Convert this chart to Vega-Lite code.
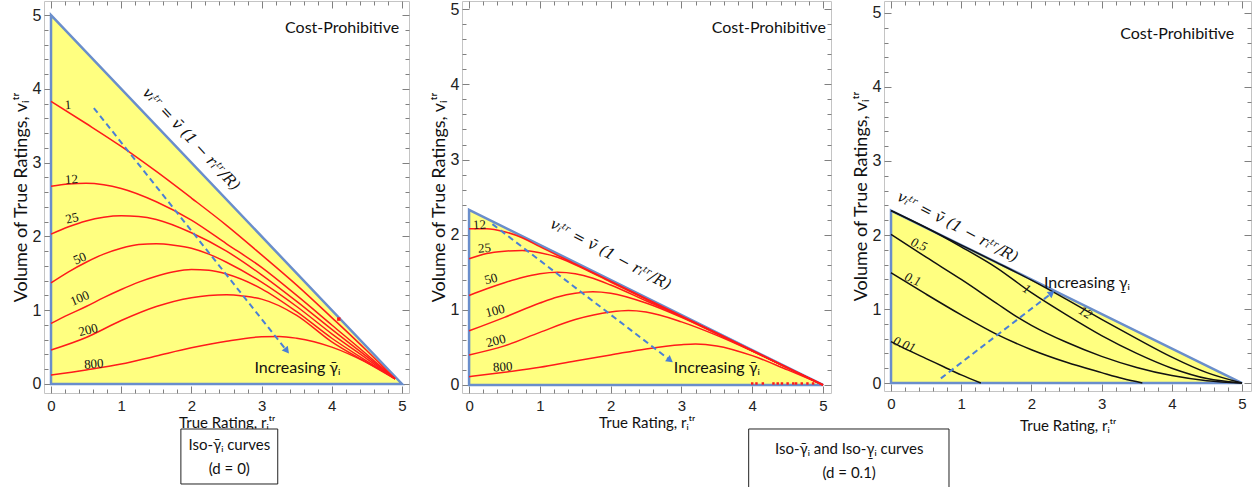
{
 "$schema": "https://vega.github.io/schema/vega-lite/v6.json",
 "background": "white",
 "padding": {"left": 11, "top": 0, "right": 0, "bottom": 0},
 "spacing": 53,
 "bounds": "flush",
 "config": {"view": {"stroke": "#c4c4c4", "strokeWidth": 1}, "line": {"interpolate": "monotone"}},
 "datasets": {
  "tri1": [{"x": 0, "y": 5}, {"x": 5, "y": 0}],
  "tri2": [{"x": 0, "y": 2.33}, {"x": 5, "y": 0}],
  "c1": [
   {"g": "1", "x": 0, "y": 3.83}, {"g": "1", "x": 0.5, "y": 3.53}, {"g": "1", "x": 1, "y": 3.22}, {"g": "1", "x": 1.5, "y": 2.88}, {"g": "1", "x": 2, "y": 2.52}, {"g": "1", "x": 2.5, "y": 2.15}, {"g": "1", "x": 3, "y": 1.75}, {"g": "1", "x": 3.5, "y": 1.34}, {"g": "1", "x": 4, "y": 0.9}, {"g": "1", "x": 4.5, "y": 0.45}, {"g": "1", "x": 4.9, "y": 0.07},
   {"g": "12", "x": 0, "y": 2.68}, {"g": "12", "x": 0.25, "y": 2.71}, {"g": "12", "x": 0.5, "y": 2.72}, {"g": "12", "x": 0.75, "y": 2.7}, {"g": "12", "x": 1, "y": 2.65}, {"g": "12", "x": 1.5, "y": 2.47}, {"g": "12", "x": 2, "y": 2.22}, {"g": "12", "x": 2.5, "y": 1.9}, {"g": "12", "x": 3, "y": 1.58}, {"g": "12", "x": 3.5, "y": 1.2}, {"g": "12", "x": 4, "y": 0.8}, {"g": "12", "x": 4.5, "y": 0.4}, {"g": "12", "x": 4.9, "y": 0.07},
   {"g": "25", "x": 0, "y": 2.03}, {"g": "25", "x": 0.25, "y": 2.13}, {"g": "25", "x": 0.5, "y": 2.21}, {"g": "25", "x": 0.75, "y": 2.26}, {"g": "25", "x": 1, "y": 2.28}, {"g": "25", "x": 1.25, "y": 2.27}, {"g": "25", "x": 1.5, "y": 2.23}, {"g": "25", "x": 2, "y": 2.05}, {"g": "25", "x": 2.5, "y": 1.8}, {"g": "25", "x": 3, "y": 1.48}, {"g": "25", "x": 3.5, "y": 1.12}, {"g": "25", "x": 4, "y": 0.74}, {"g": "25", "x": 4.5, "y": 0.37}, {"g": "25", "x": 4.9, "y": 0.07},
   {"g": "50", "x": 0, "y": 1.37}, {"g": "50", "x": 0.25, "y": 1.52}, {"g": "50", "x": 0.5, "y": 1.65}, {"g": "50", "x": 0.75, "y": 1.76}, {"g": "50", "x": 1, "y": 1.84}, {"g": "50", "x": 1.25, "y": 1.89}, {"g": "50", "x": 1.5, "y": 1.9}, {"g": "50", "x": 1.75, "y": 1.88}, {"g": "50", "x": 2, "y": 1.84}, {"g": "50", "x": 2.25, "y": 1.76}, {"g": "50", "x": 2.5, "y": 1.65}, {"g": "50", "x": 3, "y": 1.38}, {"g": "50", "x": 3.5, "y": 1.05}, {"g": "50", "x": 4, "y": 0.68}, {"g": "50", "x": 4.5, "y": 0.34}, {"g": "50", "x": 4.9, "y": 0.07},
   {"g": "100", "x": 0, "y": 0.82}, {"g": "100", "x": 0.25, "y": 0.94}, {"g": "100", "x": 0.5, "y": 1.05}, {"g": "100", "x": 0.75, "y": 1.17}, {"g": "100", "x": 1, "y": 1.28}, {"g": "100", "x": 1.25, "y": 1.38}, {"g": "100", "x": 1.5, "y": 1.46}, {"g": "100", "x": 1.75, "y": 1.52}, {"g": "100", "x": 2, "y": 1.55}, {"g": "100", "x": 2.25, "y": 1.54}, {"g": "100", "x": 2.5, "y": 1.49}, {"g": "100", "x": 3, "y": 1.29}, {"g": "100", "x": 3.5, "y": 0.98}, {"g": "100", "x": 4, "y": 0.62}, {"g": "100", "x": 4.5, "y": 0.31}, {"g": "100", "x": 4.9, "y": 0.07},
   {"g": "200", "x": 0, "y": 0.46}, {"g": "200", "x": 0.5, "y": 0.63}, {"g": "200", "x": 1, "y": 0.86}, {"g": "200", "x": 1.5, "y": 1.05}, {"g": "200", "x": 2, "y": 1.17}, {"g": "200", "x": 2.25, "y": 1.2}, {"g": "200", "x": 2.5, "y": 1.21}, {"g": "200", "x": 2.75, "y": 1.19}, {"g": "200", "x": 3, "y": 1.15}, {"g": "200", "x": 3.5, "y": 0.93}, {"g": "200", "x": 4, "y": 0.57}, {"g": "200", "x": 4.5, "y": 0.29}, {"g": "200", "x": 4.9, "y": 0.07},
   {"g": "800", "x": 0, "y": 0.12}, {"g": "800", "x": 0.5, "y": 0.19}, {"g": "800", "x": 1, "y": 0.27}, {"g": "800", "x": 1.5, "y": 0.38}, {"g": "800", "x": 2, "y": 0.49}, {"g": "800", "x": 2.5, "y": 0.58}, {"g": "800", "x": 3, "y": 0.64}, {"g": "800", "x": 3.25, "y": 0.645}, {"g": "800", "x": 3.5, "y": 0.62}, {"g": "800", "x": 4, "y": 0.5}, {"g": "800", "x": 4.5, "y": 0.29}, {"g": "800", "x": 4.9, "y": 0.08}
  ],
  "c2": [
   {"g": "12", "x": 0, "y": 2.08}, {"g": "12", "x": 0.25, "y": 2.08}, {"g": "12", "x": 0.5, "y": 2.04}, {"g": "12", "x": 0.75, "y": 1.96}, {"g": "12", "x": 1, "y": 1.84}, {"g": "12", "x": 1.5, "y": 1.61}, {"g": "12", "x": 2, "y": 1.38}, {"g": "12", "x": 3, "y": 0.92}, {"g": "12", "x": 4, "y": 0.46}, {"g": "12", "x": 5, "y": 0},
   {"g": "25", "x": 0, "y": 1.68}, {"g": "25", "x": 0.25, "y": 1.75}, {"g": "25", "x": 0.5, "y": 1.78}, {"g": "25", "x": 0.75, "y": 1.79}, {"g": "25", "x": 1, "y": 1.76}, {"g": "25", "x": 1.25, "y": 1.7}, {"g": "25", "x": 1.5, "y": 1.6}, {"g": "25", "x": 2, "y": 1.37}, {"g": "25", "x": 2.5, "y": 1.14}, {"g": "25", "x": 3, "y": 0.91}, {"g": "25", "x": 4, "y": 0.455}, {"g": "25", "x": 5, "y": 0},
   {"g": "50", "x": 0, "y": 1.19}, {"g": "50", "x": 0.25, "y": 1.28}, {"g": "50", "x": 0.5, "y": 1.36}, {"g": "50", "x": 0.75, "y": 1.43}, {"g": "50", "x": 1, "y": 1.48}, {"g": "50", "x": 1.25, "y": 1.5}, {"g": "50", "x": 1.5, "y": 1.48}, {"g": "50", "x": 1.75, "y": 1.42}, {"g": "50", "x": 2, "y": 1.33}, {"g": "50", "x": 2.5, "y": 1.12}, {"g": "50", "x": 3, "y": 0.91}, {"g": "50", "x": 3.5, "y": 0.69}, {"g": "50", "x": 4, "y": 0.455}, {"g": "50", "x": 4.5, "y": 0.228}, {"g": "50", "x": 5, "y": 0},
   {"g": "100", "x": 0, "y": 0.72}, {"g": "100", "x": 0.5, "y": 0.9}, {"g": "100", "x": 1, "y": 1.09}, {"g": "100", "x": 1.25, "y": 1.17}, {"g": "100", "x": 1.5, "y": 1.22}, {"g": "100", "x": 1.75, "y": 1.24}, {"g": "100", "x": 2, "y": 1.22}, {"g": "100", "x": 2.5, "y": 1.09}, {"g": "100", "x": 3, "y": 0.9}, {"g": "100", "x": 3.5, "y": 0.68}, {"g": "100", "x": 4, "y": 0.455}, {"g": "100", "x": 4.5, "y": 0.228}, {"g": "100", "x": 5, "y": 0},
   {"g": "200", "x": 0, "y": 0.4}, {"g": "200", "x": 0.5, "y": 0.52}, {"g": "200", "x": 1, "y": 0.7}, {"g": "200", "x": 1.5, "y": 0.87}, {"g": "200", "x": 2, "y": 0.97}, {"g": "200", "x": 2.25, "y": 0.99}, {"g": "200", "x": 2.5, "y": 0.97}, {"g": "200", "x": 3, "y": 0.84}, {"g": "200", "x": 3.5, "y": 0.66}, {"g": "200", "x": 4, "y": 0.45}, {"g": "200", "x": 4.5, "y": 0.225}, {"g": "200", "x": 5, "y": 0},
   {"g": "800", "x": 0, "y": 0.11}, {"g": "800", "x": 0.5, "y": 0.17}, {"g": "800", "x": 1, "y": 0.235}, {"g": "800", "x": 1.5, "y": 0.32}, {"g": "800", "x": 2, "y": 0.4}, {"g": "800", "x": 2.5, "y": 0.48}, {"g": "800", "x": 3, "y": 0.535}, {"g": "800", "x": 3.2, "y": 0.545}, {"g": "800", "x": 3.5, "y": 0.52}, {"g": "800", "x": 4, "y": 0.39}, {"g": "800", "x": 4.5, "y": 0.2}, {"g": "800", "x": 5, "y": 0}
  ],
  "c3": [
   {"g": "0.01", "x": 0, "y": 0.56}, {"g": "0.01", "x": 0.25, "y": 0.44}, {"g": "0.01", "x": 0.5, "y": 0.33}, {"g": "0.01", "x": 0.75, "y": 0.22}, {"g": "0.01", "x": 1, "y": 0.11}, {"g": "0.01", "x": 1.28, "y": 0},
   {"g": "0.1", "x": 0, "y": 1.49}, {"g": "0.1", "x": 0.5, "y": 1.2}, {"g": "0.1", "x": 1, "y": 0.92}, {"g": "0.1", "x": 1.5, "y": 0.66}, {"g": "0.1", "x": 2, "y": 0.45}, {"g": "0.1", "x": 2.5, "y": 0.28}, {"g": "0.1", "x": 3, "y": 0.14}, {"g": "0.1", "x": 3.3, "y": 0.06}, {"g": "0.1", "x": 3.58, "y": 0},
   {"g": "0.5", "x": 0, "y": 2.01}, {"g": "0.5", "x": 0.5, "y": 1.7}, {"g": "0.5", "x": 1, "y": 1.4}, {"g": "0.5", "x": 1.5, "y": 1.08}, {"g": "0.5", "x": 1.8, "y": 0.89}, {"g": "0.5", "x": 2, "y": 0.78}, {"g": "0.5", "x": 2.5, "y": 0.55}, {"g": "0.5", "x": 3, "y": 0.36}, {"g": "0.5", "x": 3.5, "y": 0.21}, {"g": "0.5", "x": 4, "y": 0.1}, {"g": "0.5", "x": 4.5, "y": 0.03}, {"g": "0.5", "x": 5, "y": 0},
   {"g": "1", "x": 0, "y": 2.33}, {"g": "1", "x": 0.5, "y": 2.1}, {"g": "1", "x": 1, "y": 1.84}, {"g": "1", "x": 1.5, "y": 1.56}, {"g": "1", "x": 2, "y": 1.22}, {"g": "1", "x": 2.5, "y": 0.92}, {"g": "1", "x": 3, "y": 0.64}, {"g": "1", "x": 3.5, "y": 0.4}, {"g": "1", "x": 4, "y": 0.2}, {"g": "1", "x": 4.5, "y": 0.06}, {"g": "1", "x": 5, "y": 0},
   {"g": "12", "x": 0, "y": 2.33}, {"g": "12", "x": 1, "y": 1.864}, {"g": "12", "x": 1.5, "y": 1.63}, {"g": "12", "x": 2, "y": 1.39}, {"g": "12", "x": 2.5, "y": 1.13}, {"g": "12", "x": 3, "y": 0.86}, {"g": "12", "x": 3.5, "y": 0.6}, {"g": "12", "x": 4, "y": 0.35}, {"g": "12", "x": 4.5, "y": 0.14}, {"g": "12", "x": 5, "y": 0}
  ],
  "lab1": [
   {"t": "1", "x": 0.24, "y": 3.78}, {"t": "12", "x": 0.29, "y": 2.77}, {"t": "25", "x": 0.3, "y": 2.245},
   {"t": "50", "x": 0.41, "y": 1.7}, {"t": "100", "x": 0.41, "y": 1.16}, {"t": "200", "x": 0.53, "y": 0.73}, {"t": "800", "x": 0.61, "y": 0.27}
  ],
  "lab2": [
   {"t": "12", "x": 0.146, "y": 2.13}, {"t": "25", "x": 0.216, "y": 1.82}, {"t": "50", "x": 0.31, "y": 1.41},
   {"t": "100", "x": 0.367, "y": 0.985}, {"t": "200", "x": 0.38, "y": 0.586}, {"t": "800", "x": 0.476, "y": 0.24}
  ],
  "lab3": [
   {"t": "0.5", "x": 0.4, "y": 1.87}, {"t": "0.1", "x": 0.31, "y": 1.4}, {"t": "0.01", "x": 0.19, "y": 0.52},
   {"t": "1", "x": 1.93, "y": 1.27}, {"t": "12", "x": 2.77, "y": 0.95}
  ]
 },
 "hconcat": [
  {
   "width": 365, "height": 392,
   "resolve": {"axis": {"x": "independent", "y": "independent"}},
   "layer": [
    {
     "data": {"name": "tri1"},
     "mark": {"type": "area", "fill": "#ffff80", "stroke": "#6a8ecb", "strokeWidth": 2.5, "clip": false},
     "encoding": {
      "x": {"field": "x", "type": "quantitative", "scale": {"domain": [-0.1, 5.1], "nice": false, "zero": false},
       "axis": {"orient": "bottom", "offset": -7, "values": [0, 1, 2, 3, 4, 5], "tickSize": 7, "tickColor": "#808080", "tickWidth": 1, "domain": false, "grid": false, "format": "d", "labelFont": "Liberation Sans", "labelFontSize": 15, "labelColor": "#222222", "labelPadding": 5, "labelOverlap": false, "labelFlush": false, "title": "True Rating, rᵢᵗʳ", "titleFont": "Lato", "titleFontSize": 15, "titleFontWeight": "normal", "titleColor": "#111111", "titlePadding": 2}},
      "y": {"field": "y", "type": "quantitative", "scale": {"domain": [-0.122, 5.19], "nice": false, "zero": false},
       "axis": {"orient": "left", "offset": -7, "values": [0, 1, 2, 3, 4, 5], "tickSize": 7, "tickColor": "#808080", "tickWidth": 1, "domain": false, "grid": false, "format": "d", "labelFont": "Liberation Sans", "labelFontSize": 16, "labelColor": "#222222", "labelPadding": 3, "labelOverlap": false, "labelFlush": false, "title": "Volume of True Ratings,  vᵢᵗʳ", "titleFont": "Lato", "titleFontSize": 18, "titleFontWeight": "normal", "titleColor": "#111111", "titlePadding": 2}}
     }
    },
    {
     "data": {"name": "c1"},
     "mark": {"type": "line", "color": "#ff1a1a", "strokeWidth": 1.5},
     "encoding": {
      "x": {"field": "x", "type": "quantitative", "scale": {"domain": [-0.1, 5.1], "nice": false, "zero": false},
       "axis": {"orient": "bottom", "offset": -4, "values": [0.2,0.4,0.6,0.8,1.2,1.4,1.6,1.8,2.2,2.4,2.6,2.8,3.2,3.4,3.6,3.8,4.2,4.4,4.6,4.8], "tickSize": 4, "tickColor": "#808080", "tickWidth": 1, "domain": false, "grid": false, "labels": false, "title": null}},
      "y": {"field": "y", "type": "quantitative", "scale": {"domain": [-0.122, 5.19], "nice": false, "zero": false},
       "axis": {"orient": "left", "offset": -4, "values": [0.2,0.4,0.6,0.8,1.2,1.4,1.6,1.8,2.2,2.4,2.6,2.8,3.2,3.4,3.6,3.8,4.2,4.4,4.6,4.8], "tickSize": 4, "tickColor": "#808080", "tickWidth": 1, "domain": false, "grid": false, "labels": false, "title": null}},
      "detail": {"field": "g"}
     }
    },
    {
     "data": {"name": "lab1"},
     "transform": [{"filter": {"field": "t", "oneOf": ["1", "12", "800"]}}],
     "mark": {"type": "text", "font": "Liberation Serif", "fontSize": 13, "color": "#111111", "angle": 356},
     "encoding": {
      "x": {"field": "x", "type": "quantitative", "scale": {"domain": [-0.1, 5.1], "nice": false, "zero": false}, "axis": null},
      "y": {"field": "y", "type": "quantitative", "scale": {"domain": [-0.122, 5.19], "nice": false, "zero": false}, "axis": null},
      "text": {"field": "t"}
     }
    },
    {
     "data": {"name": "lab1"},
     "transform": [{"filter": {"field": "t", "oneOf": ["25", "200"]}}],
     "mark": {"type": "text", "font": "Liberation Serif", "fontSize": 13, "color": "#111111", "angle": 346},
     "encoding": {
      "x": {"field": "x", "type": "quantitative", "scale": {"domain": [-0.1, 5.1], "nice": false, "zero": false}, "axis": null},
      "y": {"field": "y", "type": "quantitative", "scale": {"domain": [-0.122, 5.19], "nice": false, "zero": false}, "axis": null},
      "text": {"field": "t"}
     }
    },
    {
     "data": {"name": "lab1"},
     "transform": [{"filter": {"field": "t", "oneOf": ["50", "100"]}}],
     "mark": {"type": "text", "font": "Liberation Serif", "fontSize": 13, "color": "#111111", "angle": 337},
     "encoding": {
      "x": {"field": "x", "type": "quantitative", "scale": {"domain": [-0.1, 5.1], "nice": false, "zero": false}, "axis": null},
      "y": {"field": "y", "type": "quantitative", "scale": {"domain": [-0.122, 5.19], "nice": false, "zero": false}, "axis": null},
      "text": {"field": "t"}
     }
    },
    {
     "data": {"values": [{"x": 0.61, "y": 3.74}, {"x": 3.36, "y": 0.45}]},
     "mark": {"type": "line", "color": "#4a7fd6", "strokeWidth": 2, "strokeDash": [6, 4], "interpolate": "linear"},
     "encoding": {
      "x": {"field": "x", "type": "quantitative", "scale": {"domain": [-0.1, 5.1], "nice": false, "zero": false}, "axis": null},
      "y": {"field": "y", "type": "quantitative", "scale": {"domain": [-0.122, 5.19], "nice": false, "zero": false}, "axis": null}
     }
    },
    {
     "data": {"values": [{"x": 3.36, "y": 0.45}]},
     "mark": {"type": "point", "shape": "triangle-right", "filled": true, "color": "#4a7fd6", "size": 60, "angle": 51.5, "opacity": 1},
     "encoding": {
      "x": {"field": "x", "type": "quantitative", "scale": {"domain": [-0.1, 5.1], "nice": false, "zero": false}, "axis": null},
      "y": {"field": "y", "type": "quantitative", "scale": {"domain": [-0.122, 5.19], "nice": false, "zero": false}, "axis": null}
     }
    },
    {
     "data": {"values": [{"x": 4.1, "y": 0.88}]},
     "mark": {"type": "square", "color": "#ff1a1a", "size": 12, "opacity": 1},
     "encoding": {
      "x": {"field": "x", "type": "quantitative", "scale": {"domain": [-0.1, 5.1], "nice": false, "zero": false}, "axis": null},
      "y": {"field": "y", "type": "quantitative", "scale": {"domain": [-0.122, 5.19], "nice": false, "zero": false}, "axis": null}
     }
    },
    {
     "data": {"values": [{"x": 2.0, "y": 3.32, "t": "vᵢᵗʳ = v̄ (1 − rᵢᵗʳ/R)"}]},
     "mark": {"type": "text", "font": "DejaVu Serif", "fontStyle": "italic", "fontSize": 15, "color": "#111111", "angle": 47},
     "encoding": {
      "x": {"field": "x", "type": "quantitative", "scale": {"domain": [-0.1, 5.1], "nice": false, "zero": false}, "axis": null},
      "y": {"field": "y", "type": "quantitative", "scale": {"domain": [-0.122, 5.19], "nice": false, "zero": false}, "axis": null},
      "text": {"field": "t"}
     }
    },
    {
     "data": {"values": [{"x": 4.96, "y": 4.82, "t": "Cost-Prohibitive"}]},
     "mark": {"type": "text", "font": "Lato", "fontSize": 16, "color": "#111111", "align": "right", "baseline": "middle"},
     "encoding": {
      "x": {"field": "x", "type": "quantitative", "scale": {"domain": [-0.1, 5.1], "nice": false, "zero": false},
       "axis": {"orient": "top", "offset": -7, "values": [0, 1, 2, 3, 4, 5], "tickSize": 7, "tickColor": "#808080", "tickWidth": 1, "domain": false, "grid": false, "labels": false, "title": null}},
      "y": {"field": "y", "type": "quantitative", "scale": {"domain": [-0.122, 5.19], "nice": false, "zero": false},
       "axis": {"orient": "right", "offset": -7, "values": [0, 1, 2, 3, 4, 5], "tickSize": 7, "tickColor": "#808080", "tickWidth": 1, "domain": false, "grid": false, "labels": false, "title": null}},
      "text": {"field": "t"}
     }
    },
    {
     "data": {"values": [{"x": 3.51, "y": 0.217, "t": "Increasing γ̄ᵢ"}]},
     "mark": {"type": "text", "font": "Lato", "fontSize": 16, "color": "#111111", "align": "center", "baseline": "middle"},
     "encoding": {
      "x": {"field": "x", "type": "quantitative", "scale": {"domain": [-0.1, 5.1], "nice": false, "zero": false},
       "axis": {"orient": "top", "offset": -4, "values": [0.2,0.4,0.6,0.8,1.2,1.4,1.6,1.8,2.2,2.4,2.6,2.8,3.2,3.4,3.6,3.8,4.2,4.4,4.6,4.8], "tickSize": 4, "tickColor": "#808080", "tickWidth": 1, "domain": false, "grid": false, "labels": false, "title": null}},
      "y": {"field": "y", "type": "quantitative", "scale": {"domain": [-0.122, 5.19], "nice": false, "zero": false},
       "axis": {"orient": "right", "offset": -4, "values": [0.2,0.4,0.6,0.8,1.2,1.4,1.6,1.8,2.2,2.4,2.6,2.8,3.2,3.4,3.6,3.8,4.2,4.4,4.6,4.8], "tickSize": 4, "tickColor": "#808080", "tickWidth": 1, "domain": false, "grid": false, "labels": false, "title": null}},
      "text": {"field": "t"}
     }
    },
    {
     "data": {"values": [{"x": 1.85, "x2": 3.23, "y": -0.61, "y2": -1.355}]},
     "mark": {"type": "rect", "fill": "white", "stroke": "#222222", "strokeWidth": 1, "clip": false},
     "encoding": {
      "x": {"field": "x", "type": "quantitative", "scale": {"domain": [-0.1, 5.1], "nice": false, "zero": false}, "axis": null},
      "x2": {"field": "x2"},
      "y": {"field": "y", "type": "quantitative", "scale": {"domain": [-0.122, 5.19], "nice": false, "zero": false}, "axis": null},
      "y2": {"field": "y2"}
     }
    },
    {
     "data": {"values": [{"x": 2.54, "y": -0.827, "t": "Iso-γ̄ᵢ curves"}, {"x": 2.54, "y": -1.152, "t": "(d = 0)"}]},
     "mark": {"type": "text", "font": "Lato", "fontSize": 15, "color": "#111111", "align": "center", "baseline": "middle", "clip": false},
     "encoding": {
      "x": {"field": "x", "type": "quantitative", "scale": {"domain": [-0.1, 5.1], "nice": false, "zero": false}, "axis": null},
      "y": {"field": "y", "type": "quantitative", "scale": {"domain": [-0.122, 5.19], "nice": false, "zero": false}, "axis": null},
      "text": {"field": "t"}
     }
    }
   ]
  },
  {
   "width": 369, "height": 392,
   "resolve": {"axis": {"x": "independent", "y": "independent"}},
   "layer": [
    {
     "data": {"name": "tri2"},
     "mark": {"type": "area", "fill": "#ffff80", "stroke": "#6a8ecb", "strokeWidth": 2.5, "clip": false},
     "encoding": {
      "x": {"field": "x", "type": "quantitative", "scale": {"domain": [-0.1, 5.113], "nice": false, "zero": false},
       "axis": {"orient": "bottom", "offset": -7, "values": [0, 1, 2, 3, 4, 5], "tickSize": 7, "tickColor": "#808080", "tickWidth": 1, "domain": false, "grid": false, "format": "d", "labelFont": "Liberation Sans", "labelFontSize": 15, "labelColor": "#222222", "labelPadding": 5, "labelOverlap": false, "labelFlush": false, "title": "True Rating, rᵢᵗʳ", "titleFont": "Lato", "titleFontSize": 15, "titleFontWeight": "normal", "titleColor": "#111111", "titlePadding": 2}},
      "y": {"field": "y", "type": "quantitative", "scale": {"domain": [-0.107, 5.11], "nice": false, "zero": false},
       "axis": {"orient": "left", "offset": -7, "values": [0, 1, 2, 3, 4, 5], "tickSize": 7, "tickColor": "#808080", "tickWidth": 1, "domain": false, "grid": false, "format": "d", "labelFont": "Liberation Sans", "labelFontSize": 16, "labelColor": "#222222", "labelPadding": 3, "labelOverlap": false, "labelFlush": false, "title": "Volume of True Ratings,  vᵢᵗʳ", "titleFont": "Lato", "titleFontSize": 18, "titleFontWeight": "normal", "titleColor": "#111111", "titlePadding": 2}}
     }
    },
    {
     "data": {"name": "c2"},
     "mark": {"type": "line", "color": "#ff1a1a", "strokeWidth": 1.5},
     "encoding": {
      "x": {"field": "x", "type": "quantitative", "scale": {"domain": [-0.1, 5.113], "nice": false, "zero": false},
       "axis": {"orient": "bottom", "offset": -4, "values": [0.2,0.4,0.6,0.8,1.2,1.4,1.6,1.8,2.2,2.4,2.6,2.8,3.2,3.4,3.6,3.8,4.2,4.4,4.6,4.8], "tickSize": 4, "tickColor": "#808080", "tickWidth": 1, "domain": false, "grid": false, "labels": false, "title": null}},
      "y": {"field": "y", "type": "quantitative", "scale": {"domain": [-0.107, 5.11], "nice": false, "zero": false},
       "axis": {"orient": "left", "offset": -4, "values": [0.2,0.4,0.6,0.8,1.2,1.4,1.6,1.8,2.2,2.4,2.6,2.8,3.2,3.4,3.6,3.8,4.2,4.4,4.6,4.8], "tickSize": 4, "tickColor": "#808080", "tickWidth": 1, "domain": false, "grid": false, "labels": false, "title": null}},
      "detail": {"field": "g"}
     }
    },
    {
     "data": {"values": [{"x": 4.0}, {"x": 4.06}, {"x": 4.15}, {"x": 4.3}, {"x": 4.36}, {"x": 4.42}, {"x": 4.5}, {"x": 4.58}, {"x": 4.62}, {"x": 4.7}, {"x": 4.78}, {"x": 4.86}]},
     "mark": {"type": "square", "color": "#ff1a1a", "size": 6, "opacity": 1},
     "encoding": {
      "x": {"field": "x", "type": "quantitative", "scale": {"domain": [-0.1, 5.113], "nice": false, "zero": false}, "axis": null},
      "y": {"datum": 0.02, "type": "quantitative", "scale": {"domain": [-0.107, 5.11], "nice": false, "zero": false}, "axis": null}
     }
    },
    {
     "data": {"name": "lab2"},
     "transform": [{"filter": {"field": "t", "oneOf": ["12", "25", "800"]}}],
     "mark": {"type": "text", "font": "Liberation Serif", "fontSize": 13, "color": "#111111", "angle": 356},
     "encoding": {
      "x": {"field": "x", "type": "quantitative", "scale": {"domain": [-0.1, 5.113], "nice": false, "zero": false}, "axis": null},
      "y": {"field": "y", "type": "quantitative", "scale": {"domain": [-0.107, 5.11], "nice": false, "zero": false}, "axis": null},
      "text": {"field": "t"}
     }
    },
    {
     "data": {"name": "lab2"},
     "transform": [{"filter": {"field": "t", "oneOf": ["50", "100", "200"]}}],
     "mark": {"type": "text", "font": "Liberation Serif", "fontSize": 13, "color": "#111111", "angle": 345},
     "encoding": {
      "x": {"field": "x", "type": "quantitative", "scale": {"domain": [-0.1, 5.113], "nice": false, "zero": false}, "axis": null},
      "y": {"field": "y", "type": "quantitative", "scale": {"domain": [-0.107, 5.11], "nice": false, "zero": false}, "axis": null},
      "text": {"field": "t"}
     }
    },
    {
     "data": {"values": [{"x": 0.33, "y": 2.14}, {"x": 2.84, "y": 0.33}]},
     "mark": {"type": "line", "color": "#4a7fd6", "strokeWidth": 2, "strokeDash": [6, 4], "interpolate": "linear"},
     "encoding": {
      "x": {"field": "x", "type": "quantitative", "scale": {"domain": [-0.1, 5.113], "nice": false, "zero": false}, "axis": null},
      "y": {"field": "y", "type": "quantitative", "scale": {"domain": [-0.107, 5.11], "nice": false, "zero": false}, "axis": null}
     }
    },
    {
     "data": {"values": [{"x": 2.84, "y": 0.33}]},
     "mark": {"type": "point", "shape": "triangle-right", "filled": true, "color": "#4a7fd6", "size": 60, "angle": 37, "opacity": 1},
     "encoding": {
      "x": {"field": "x", "type": "quantitative", "scale": {"domain": [-0.1, 5.113], "nice": false, "zero": false}, "axis": null},
      "y": {"field": "y", "type": "quantitative", "scale": {"domain": [-0.107, 5.11], "nice": false, "zero": false}, "axis": null}
     }
    },
    {
     "data": {"values": [{"x": 2.0, "y": 1.74, "t": "vᵢᵗʳ = v̄ (1 − rᵢᵗʳ/R)"}]},
     "mark": {"type": "text", "font": "DejaVu Serif", "fontStyle": "italic", "fontSize": 15, "color": "#111111", "angle": 28},
     "encoding": {
      "x": {"field": "x", "type": "quantitative", "scale": {"domain": [-0.1, 5.113], "nice": false, "zero": false}, "axis": null},
      "y": {"field": "y", "type": "quantitative", "scale": {"domain": [-0.107, 5.11], "nice": false, "zero": false}, "axis": null},
      "text": {"field": "t"}
     }
    },
    {
     "data": {"values": [{"x": 5.04, "y": 4.75, "t": "Cost-Prohibitive"}]},
     "mark": {"type": "text", "font": "Lato", "fontSize": 16, "color": "#111111", "align": "right", "baseline": "middle"},
     "encoding": {
      "x": {"field": "x", "type": "quantitative", "scale": {"domain": [-0.1, 5.113], "nice": false, "zero": false},
       "axis": {"orient": "top", "offset": -7, "values": [0, 1, 2, 3, 4, 5], "tickSize": 7, "tickColor": "#808080", "tickWidth": 1, "domain": false, "grid": false, "labels": false, "title": null}},
      "y": {"field": "y", "type": "quantitative", "scale": {"domain": [-0.107, 5.11], "nice": false, "zero": false},
       "axis": {"orient": "right", "offset": -7, "values": [0, 1, 2, 3, 4, 5], "tickSize": 7, "tickColor": "#808080", "tickWidth": 1, "domain": false, "grid": false, "labels": false, "title": null}},
      "text": {"field": "t"}
     }
    },
    {
     "data": {"values": [{"x": 3.5, "y": 0.23, "t": "Increasing γ̄ᵢ"}]},
     "mark": {"type": "text", "font": "Lato", "fontSize": 16, "color": "#111111", "align": "center", "baseline": "middle"},
     "encoding": {
      "x": {"field": "x", "type": "quantitative", "scale": {"domain": [-0.1, 5.113], "nice": false, "zero": false},
       "axis": {"orient": "top", "offset": -4, "values": [0.2,0.4,0.6,0.8,1.2,1.4,1.6,1.8,2.2,2.4,2.6,2.8,3.2,3.4,3.6,3.8,4.2,4.4,4.6,4.8], "tickSize": 4, "tickColor": "#808080", "tickWidth": 1, "domain": false, "grid": false, "labels": false, "title": null}},
      "y": {"field": "y", "type": "quantitative", "scale": {"domain": [-0.107, 5.11], "nice": false, "zero": false},
       "axis": {"orient": "right", "offset": -4, "values": [0.2,0.4,0.6,0.8,1.2,1.4,1.6,1.8,2.2,2.4,2.6,2.8,3.2,3.4,3.6,3.8,4.2,4.4,4.6,4.8], "tickSize": 4, "tickColor": "#808080", "tickWidth": 1, "domain": false, "grid": false, "labels": false, "title": null}},
      "text": {"field": "t"}
     }
    },
    {
     "data": {"values": [{"x": 3.95, "x2": 6.78, "y": -0.586, "y2": -1.42}]},
     "mark": {"type": "rect", "fill": "white", "stroke": "#222222", "strokeWidth": 1, "clip": false},
     "encoding": {
      "x": {"field": "x", "type": "quantitative", "scale": {"domain": [-0.1, 5.113], "nice": false, "zero": false}, "axis": null},
      "x2": {"field": "x2"},
      "y": {"field": "y", "type": "quantitative", "scale": {"domain": [-0.107, 5.11], "nice": false, "zero": false}, "axis": null},
      "y2": {"field": "y2"}
     }
    },
    {
     "data": {"values": [{"x": 5.37, "y": -0.852, "t": "Iso-γ̄ᵢ and Iso-γ̱ᵢ curves"}, {"x": 5.37, "y": -1.171, "t": "(d = 0.1)"}]},
     "mark": {"type": "text", "font": "Lato", "fontSize": 15, "color": "#111111", "align": "center", "baseline": "middle", "clip": false},
     "encoding": {
      "x": {"field": "x", "type": "quantitative", "scale": {"domain": [-0.1, 5.113], "nice": false, "zero": false}, "axis": null},
      "y": {"field": "y", "type": "quantitative", "scale": {"domain": [-0.107, 5.11], "nice": false, "zero": false}, "axis": null},
      "text": {"field": "t"}
     }
    }
   ]
  },
  {
   "width": 367, "height": 390,
   "resolve": {"axis": {"x": "independent", "y": "independent"}},
   "layer": [
    {
     "data": {"name": "tri2"},
     "mark": {"type": "area", "fill": "#ffff80", "stroke": "#6a8ecb", "strokeWidth": 2.5, "clip": false},
     "encoding": {
      "x": {"field": "x", "type": "quantitative", "scale": {"domain": [-0.1, 5.128], "nice": false, "zero": false},
       "axis": {"orient": "bottom", "offset": -7, "values": [0, 1, 2, 3, 4, 5], "tickSize": 7, "tickColor": "#808080", "tickWidth": 1, "domain": false, "grid": false, "format": "d", "labelFont": "Liberation Sans", "labelFontSize": 15, "labelColor": "#222222", "labelPadding": 5, "labelOverlap": false, "labelFlush": false, "title": "True Rating, rᵢᵗʳ", "titleFont": "Lato", "titleFontSize": 15, "titleFontWeight": "normal", "titleColor": "#111111", "titlePadding": 7}},
      "y": {"field": "y", "type": "quantitative", "scale": {"domain": [-0.108, 5.162], "nice": false, "zero": false},
       "axis": {"orient": "left", "offset": -7, "values": [0, 1, 2, 3, 4, 5], "tickSize": 7, "tickColor": "#808080", "tickWidth": 1, "domain": false, "grid": false, "format": "d", "labelFont": "Liberation Sans", "labelFontSize": 16, "labelColor": "#222222", "labelPadding": 3, "labelOverlap": false, "labelFlush": false, "title": "Volume of True Ratings,  vᵢᵗʳ", "titleFont": "Lato", "titleFontSize": 18, "titleFontWeight": "normal", "titleColor": "#111111", "titlePadding": 2}}
     }
    },
    {
     "data": {"name": "c3"},
     "mark": {"type": "line", "color": "#111111", "strokeWidth": 1.5},
     "encoding": {
      "x": {"field": "x", "type": "quantitative", "scale": {"domain": [-0.1, 5.128], "nice": false, "zero": false},
       "axis": {"orient": "bottom", "offset": -4, "values": [0.2,0.4,0.6,0.8,1.2,1.4,1.6,1.8,2.2,2.4,2.6,2.8,3.2,3.4,3.6,3.8,4.2,4.4,4.6,4.8], "tickSize": 4, "tickColor": "#808080", "tickWidth": 1, "domain": false, "grid": false, "labels": false, "title": null}},
      "y": {"field": "y", "type": "quantitative", "scale": {"domain": [-0.108, 5.162], "nice": false, "zero": false},
       "axis": {"orient": "left", "offset": -4, "values": [0.2,0.4,0.6,0.8,1.2,1.4,1.6,1.8,2.2,2.4,2.6,2.8,3.2,3.4,3.6,3.8,4.2,4.4,4.6,4.8], "tickSize": 4, "tickColor": "#808080", "tickWidth": 1, "domain": false, "grid": false, "labels": false, "title": null}},
      "detail": {"field": "g"}
     }
    },
    {
     "data": {"name": "lab3"},
     "transform": [{"filter": {"field": "t", "oneOf": ["0.5", "0.1", "0.01"]}}],
     "mark": {"type": "text", "font": "Liberation Serif", "fontStyle": "italic", "fontSize": 13, "color": "#111111", "angle": 22},
     "encoding": {
      "x": {"field": "x", "type": "quantitative", "scale": {"domain": [-0.1, 5.128], "nice": false, "zero": false}, "axis": null},
      "y": {"field": "y", "type": "quantitative", "scale": {"domain": [-0.108, 5.162], "nice": false, "zero": false}, "axis": null},
      "text": {"field": "t"}
     }
    },
    {
     "data": {"name": "lab3"},
     "transform": [{"filter": {"field": "t", "oneOf": ["1", "12"]}}],
     "mark": {"type": "text", "font": "Liberation Serif", "fontStyle": "italic", "fontSize": 13, "color": "#111111", "angle": 32},
     "encoding": {
      "x": {"field": "x", "type": "quantitative", "scale": {"domain": [-0.1, 5.128], "nice": false, "zero": false}, "axis": null},
      "y": {"field": "y", "type": "quantitative", "scale": {"domain": [-0.108, 5.162], "nice": false, "zero": false}, "axis": null},
      "text": {"field": "t"}
     }
    },
    {
     "data": {"values": [{"x": 0.71, "y": 0.063}, {"x": 2.29, "y": 1.215}]},
     "mark": {"type": "line", "color": "#4a7fd6", "strokeWidth": 2, "strokeDash": [6, 4], "interpolate": "linear"},
     "encoding": {
      "x": {"field": "x", "type": "quantitative", "scale": {"domain": [-0.1, 5.128], "nice": false, "zero": false}, "axis": null},
      "y": {"field": "y", "type": "quantitative", "scale": {"domain": [-0.108, 5.162], "nice": false, "zero": false}, "axis": null}
     }
    },
    {
     "data": {"values": [{"x": 2.29, "y": 1.215}]},
     "mark": {"type": "point", "shape": "triangle-right", "filled": true, "color": "#4a7fd6", "size": 60, "angle": -37.5, "opacity": 1},
     "encoding": {
      "x": {"field": "x", "type": "quantitative", "scale": {"domain": [-0.1, 5.128], "nice": false, "zero": false}, "axis": null},
      "y": {"field": "y", "type": "quantitative", "scale": {"domain": [-0.108, 5.162], "nice": false, "zero": false}, "axis": null}
     }
    },
    {
     "data": {"values": [{"x": 0.95, "y": 2.11, "t": "vᵢᵗʳ = v̄ (1 − rᵢᵗʳ/R)"}]},
     "mark": {"type": "text", "font": "DejaVu Serif", "fontStyle": "italic", "fontSize": 15, "color": "#111111", "angle": 28},
     "encoding": {
      "x": {"field": "x", "type": "quantitative", "scale": {"domain": [-0.1, 5.128], "nice": false, "zero": false}, "axis": null},
      "y": {"field": "y", "type": "quantitative", "scale": {"domain": [-0.108, 5.162], "nice": false, "zero": false}, "axis": null},
      "text": {"field": "t"}
     }
    },
    {
     "data": {"values": [{"x": 4.89, "y": 4.72, "t": "Cost-Prohibitive"}]},
     "mark": {"type": "text", "font": "Lato", "fontSize": 16, "color": "#111111", "align": "right", "baseline": "middle"},
     "encoding": {
      "x": {"field": "x", "type": "quantitative", "scale": {"domain": [-0.1, 5.128], "nice": false, "zero": false},
       "axis": {"orient": "top", "offset": -7, "values": [0, 1, 2, 3, 4, 5], "tickSize": 7, "tickColor": "#808080", "tickWidth": 1, "domain": false, "grid": false, "labels": false, "title": null}},
      "y": {"field": "y", "type": "quantitative", "scale": {"domain": [-0.108, 5.162], "nice": false, "zero": false},
       "axis": {"orient": "right", "offset": -7, "values": [0, 1, 2, 3, 4, 5], "tickSize": 7, "tickColor": "#808080", "tickWidth": 1, "domain": false, "grid": false, "labels": false, "title": null}},
      "text": {"field": "t"}
     }
    },
    {
     "data": {"values": [{"x": 2.79, "y": 1.355, "t": "Increasing γ̱ᵢ"}]},
     "mark": {"type": "text", "font": "Lato", "fontSize": 16, "color": "#111111", "align": "center", "baseline": "middle"},
     "encoding": {
      "x": {"field": "x", "type": "quantitative", "scale": {"domain": [-0.1, 5.128], "nice": false, "zero": false},
       "axis": {"orient": "top", "offset": -4, "values": [0.2,0.4,0.6,0.8,1.2,1.4,1.6,1.8,2.2,2.4,2.6,2.8,3.2,3.4,3.6,3.8,4.2,4.4,4.6,4.8], "tickSize": 4, "tickColor": "#808080", "tickWidth": 1, "domain": false, "grid": false, "labels": false, "title": null}},
      "y": {"field": "y", "type": "quantitative", "scale": {"domain": [-0.108, 5.162], "nice": false, "zero": false},
       "axis": {"orient": "right", "offset": -4, "values": [0.2,0.4,0.6,0.8,1.2,1.4,1.6,1.8,2.2,2.4,2.6,2.8,3.2,3.4,3.6,3.8,4.2,4.4,4.6,4.8], "tickSize": 4, "tickColor": "#808080", "tickWidth": 1, "domain": false, "grid": false, "labels": false, "title": null}},
      "text": {"field": "t"}
     }
    }
   ]
  }
 ]
}
